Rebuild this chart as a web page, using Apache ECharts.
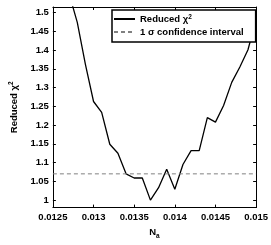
<!DOCTYPE html>
<html><head><meta charset="utf-8">
<script src="https://cdn.jsdelivr.net/npm/echarts@6/dist/echarts.min.js"></script>
<style>html,body{margin:0;padding:0;background:#fff}#c{width:271px;height:245px}</style>
</head><body><div id="c"></div>
<script>
const nA = [0.0127,0.0128,0.0129,0.0130,0.0131,0.0132,0.0133,0.0134,0.0135,0.0136,0.0137,0.0138,0.0139,0.0140,0.0141,0.0142,0.0143,0.0144,0.0145,0.0146,0.0147,0.0148,0.0149,0.0150];
const chi2 = [1.55,1.474,1.362,1.263,1.234,1.149,1.125,1.070,1.059,1.059,1.000,1.033,1.082,1.029,1.095,1.132,1.132,1.220,1.208,1.2525,1.314,1.355,1.401,1.482];
const confX = [0.0125, 0.015];
const confY = [1.07, 1.07];
const xTicks = [0.0125,0.013,0.0135,0.014,0.0145,0.015];
const yTicks = [1,1.05,1.1,1.15,1.2,1.25,1.3,1.35,1.4,1.45,1.5];

const F = 'Liberation Sans, Arial, sans-serif';
const lab = {fontFamily:F,fontWeight:'bold',fontSize:9.5,color:'#000'};
const chart = echarts.init(document.getElementById('c'));
const axLine = {show:true,lineStyle:{color:'#000',width:1}};
chart.setOption({
  animation:false,
  grid:{left:35,right:14,top:7,bottom:28},
  xAxis:[{
    type:'value',min:0.0125,max:0.015,
    axisLine:axLine,
    axisTick:{show:true,inside:true,length:3,customValues:xTicks,lineStyle:{color:'#000'}},
    axisLabel:Object.assign({customValues:xTicks,margin:5,formatter:v=>String(+(+v).toFixed(4))},lab),
    splitLine:{show:false},
    name:'N{sub|a}',nameLocation:'middle',nameGap:9,
    nameTextStyle:Object.assign({verticalAlign:'top',rich:{sub:{fontFamily:F,fontWeight:'bold',fontSize:6.5,verticalAlign:'bottom',padding:[8,0,0,0]}}},lab)
  },{
    type:'value',min:0.0125,max:0.015,position:'top',
    axisLine:axLine,
    axisTick:{show:true,inside:true,length:3,customValues:xTicks,lineStyle:{color:'#000'}},
    axisLabel:{show:false},splitLine:{show:false}
  }],
  yAxis:[{
    type:'value',min:0.98,max:1.515,
    axisLine:axLine,
    axisTick:{show:true,inside:true,length:3,customValues:yTicks,lineStyle:{color:'#000'}},
    axisLabel:Object.assign({customValues:yTicks,margin:4,formatter:v=>String(+(+v).toFixed(2))},lab),
    splitLine:{show:false},
    name:'Reduced \u03c7{sup|2}',nameLocation:'middle',nameGap:28,nameRotate:90,
    nameTextStyle:Object.assign({rich:{sup:{fontFamily:F,fontWeight:'bold',fontSize:6.5,verticalAlign:'top',padding:[0,0,6,0]}}},lab)
  },{
    type:'value',min:0.98,max:1.515,position:'right',
    axisLine:axLine,
    axisTick:{show:true,inside:true,length:3,customValues:yTicks,lineStyle:{color:'#000'}},
    axisLabel:{show:false},splitLine:{show:false}
  }],
  legend:{
    orient:'vertical',left:112,top:10,
    backgroundColor:'#fff',borderColor:'#000',borderWidth:1.5,borderRadius:0,
    padding:[4,12,5,1],itemGap:3,itemWidth:21,itemHeight:10,
    itemStyle:{opacity:0},
    textStyle:Object.assign({rich:{sup:{fontFamily:F,fontWeight:'bold',fontSize:6.5,verticalAlign:'top'}}},lab),
    formatter:n=>n==='chi'?'Reduced \u03c7{sup|2}':'1 \u03c3 confidence interval',
    data:['chi','conf']
  },
  series:[{
    name:'chi',type:'line',showSymbol:false,symbol:'none',
    data:nA.map((x,i)=>[x,chi2[i]]),
    lineStyle:{color:'#000',width:1.3},itemStyle:{color:'#000'},clip:true
  },{
    name:'conf',type:'line',showSymbol:false,symbol:'none',
    data:confX.map((x,i)=>[x,confY[i]]),
    lineStyle:{color:'#808080',width:1,type:[4,3]},itemStyle:{color:'#808080'}
  }]
});
</script></body></html>
